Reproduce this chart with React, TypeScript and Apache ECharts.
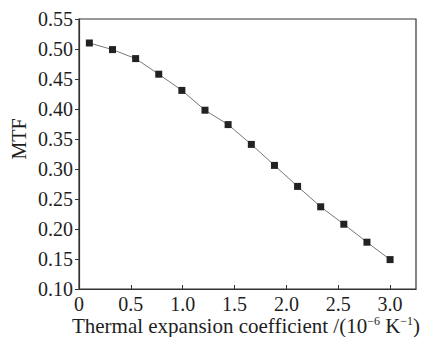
import React, { useEffect, useRef } from "react";
import * as echarts from "echarts";

const xValues = [0.1, 0.323, 0.546, 0.769, 0.992, 1.215, 1.438, 1.662, 1.885, 2.108, 2.331, 2.554, 2.777, 3.0];
const mtfValues = [0.51, 0.499, 0.484, 0.458, 0.431, 0.398, 0.374, 0.341, 0.306, 0.271, 0.237, 0.208, 0.178, 0.149];

const FONT = "Liberation Serif";
const TXT = "#1e1e1e";

export default function App() {
  const ref = useRef<HTMLDivElement>(null);
  useEffect(() => {
    if (!ref.current) return;
    const chart = echarts.init(ref.current, null, { renderer: "svg" });
    chart.setOption({
      animation: false,
      backgroundColor: "#fff",
      grid: {
        left: 79,
        top: 19,
        right: 13,
        bottom: 48,
        outerBoundsMode: "none",
        containLabel: false,
        show: true,
        borderColor: "#333",
        borderWidth: 1.2,
        backgroundColor: "transparent",
      },
      graphic: [
        {
          type: "text",
          x: 19,
          y: 139,
          rotation: Math.PI / 2,
          style: {
            text: "MTF",
            fontFamily: FONT,
            fontSize: 20,
            fill: TXT,
            align: "center",
            verticalAlign: "middle",
          },
        },
        {
          type: "text",
          x: 246,
          y: 315,
          style: {
            text: "{t|Thermal expansion coefficient /(10}{s|−6}{t| K}{s|−1}{t|)}",
            align: "center",
            verticalAlign: "top",
            rich: {
              t: { fontFamily: FONT, fontSize: 21, fill: TXT, lineHeight: 21 },
              s: { fontFamily: FONT, fontSize: 12, fill: TXT, verticalAlign: "top", lineHeight: 13 },
            },
          },
        },
      ],
      xAxis: {
        type: "value",
        min: 0,
        max: 3.25,
        interval: 0.5,
        axisLine: { show: true, lineStyle: { color: "#333", width: 1.2 } },
        axisTick: { show: true, inside: true, length: 4, lineStyle: { color: "#333" } },
        splitLine: { show: false },
        axisLabel: {
          showMaxLabel: false,
          margin: 6,
          fontFamily: FONT,
          fontSize: 20,
          lineHeight: 18,
          color: TXT,
          formatter: (v: number) => {
            if (Math.abs(v / 0.5 - Math.round(v / 0.5)) > 1e-6) return "";
            return v === 0 ? "0" : v.toFixed(1);
          },
        },
      },
      yAxis: {
        type: "value",
        min: 0.1,
        max: 0.55,
        interval: 0.05,
        axisLine: { show: true, lineStyle: { color: "#333", width: 1.2 } },
        axisTick: { show: true, inside: false, length: 4, lineStyle: { color: "#333" } },
        splitLine: { show: false },
        axisLabel: {
          margin: 6,
          fontFamily: FONT,
          fontSize: 20,
          color: TXT,
          formatter: (v: number) => v.toFixed(2),
        },
      },
      series: [
        {
          type: "line",
          data: xValues.map((x, i) => [x, mtfValues[i]]),
          symbol: "rect",
          symbolSize: 7,
          itemStyle: { color: "#222", borderWidth: 0 },
          lineStyle: { color: "#666", width: 0.9 },
        },
      ],
    });
    return () => chart.dispose();
  }, []);
  return <div ref={ref} style={{ width: 429, height: 337, position: "absolute", left: 0, top: 0 }} />;
}
